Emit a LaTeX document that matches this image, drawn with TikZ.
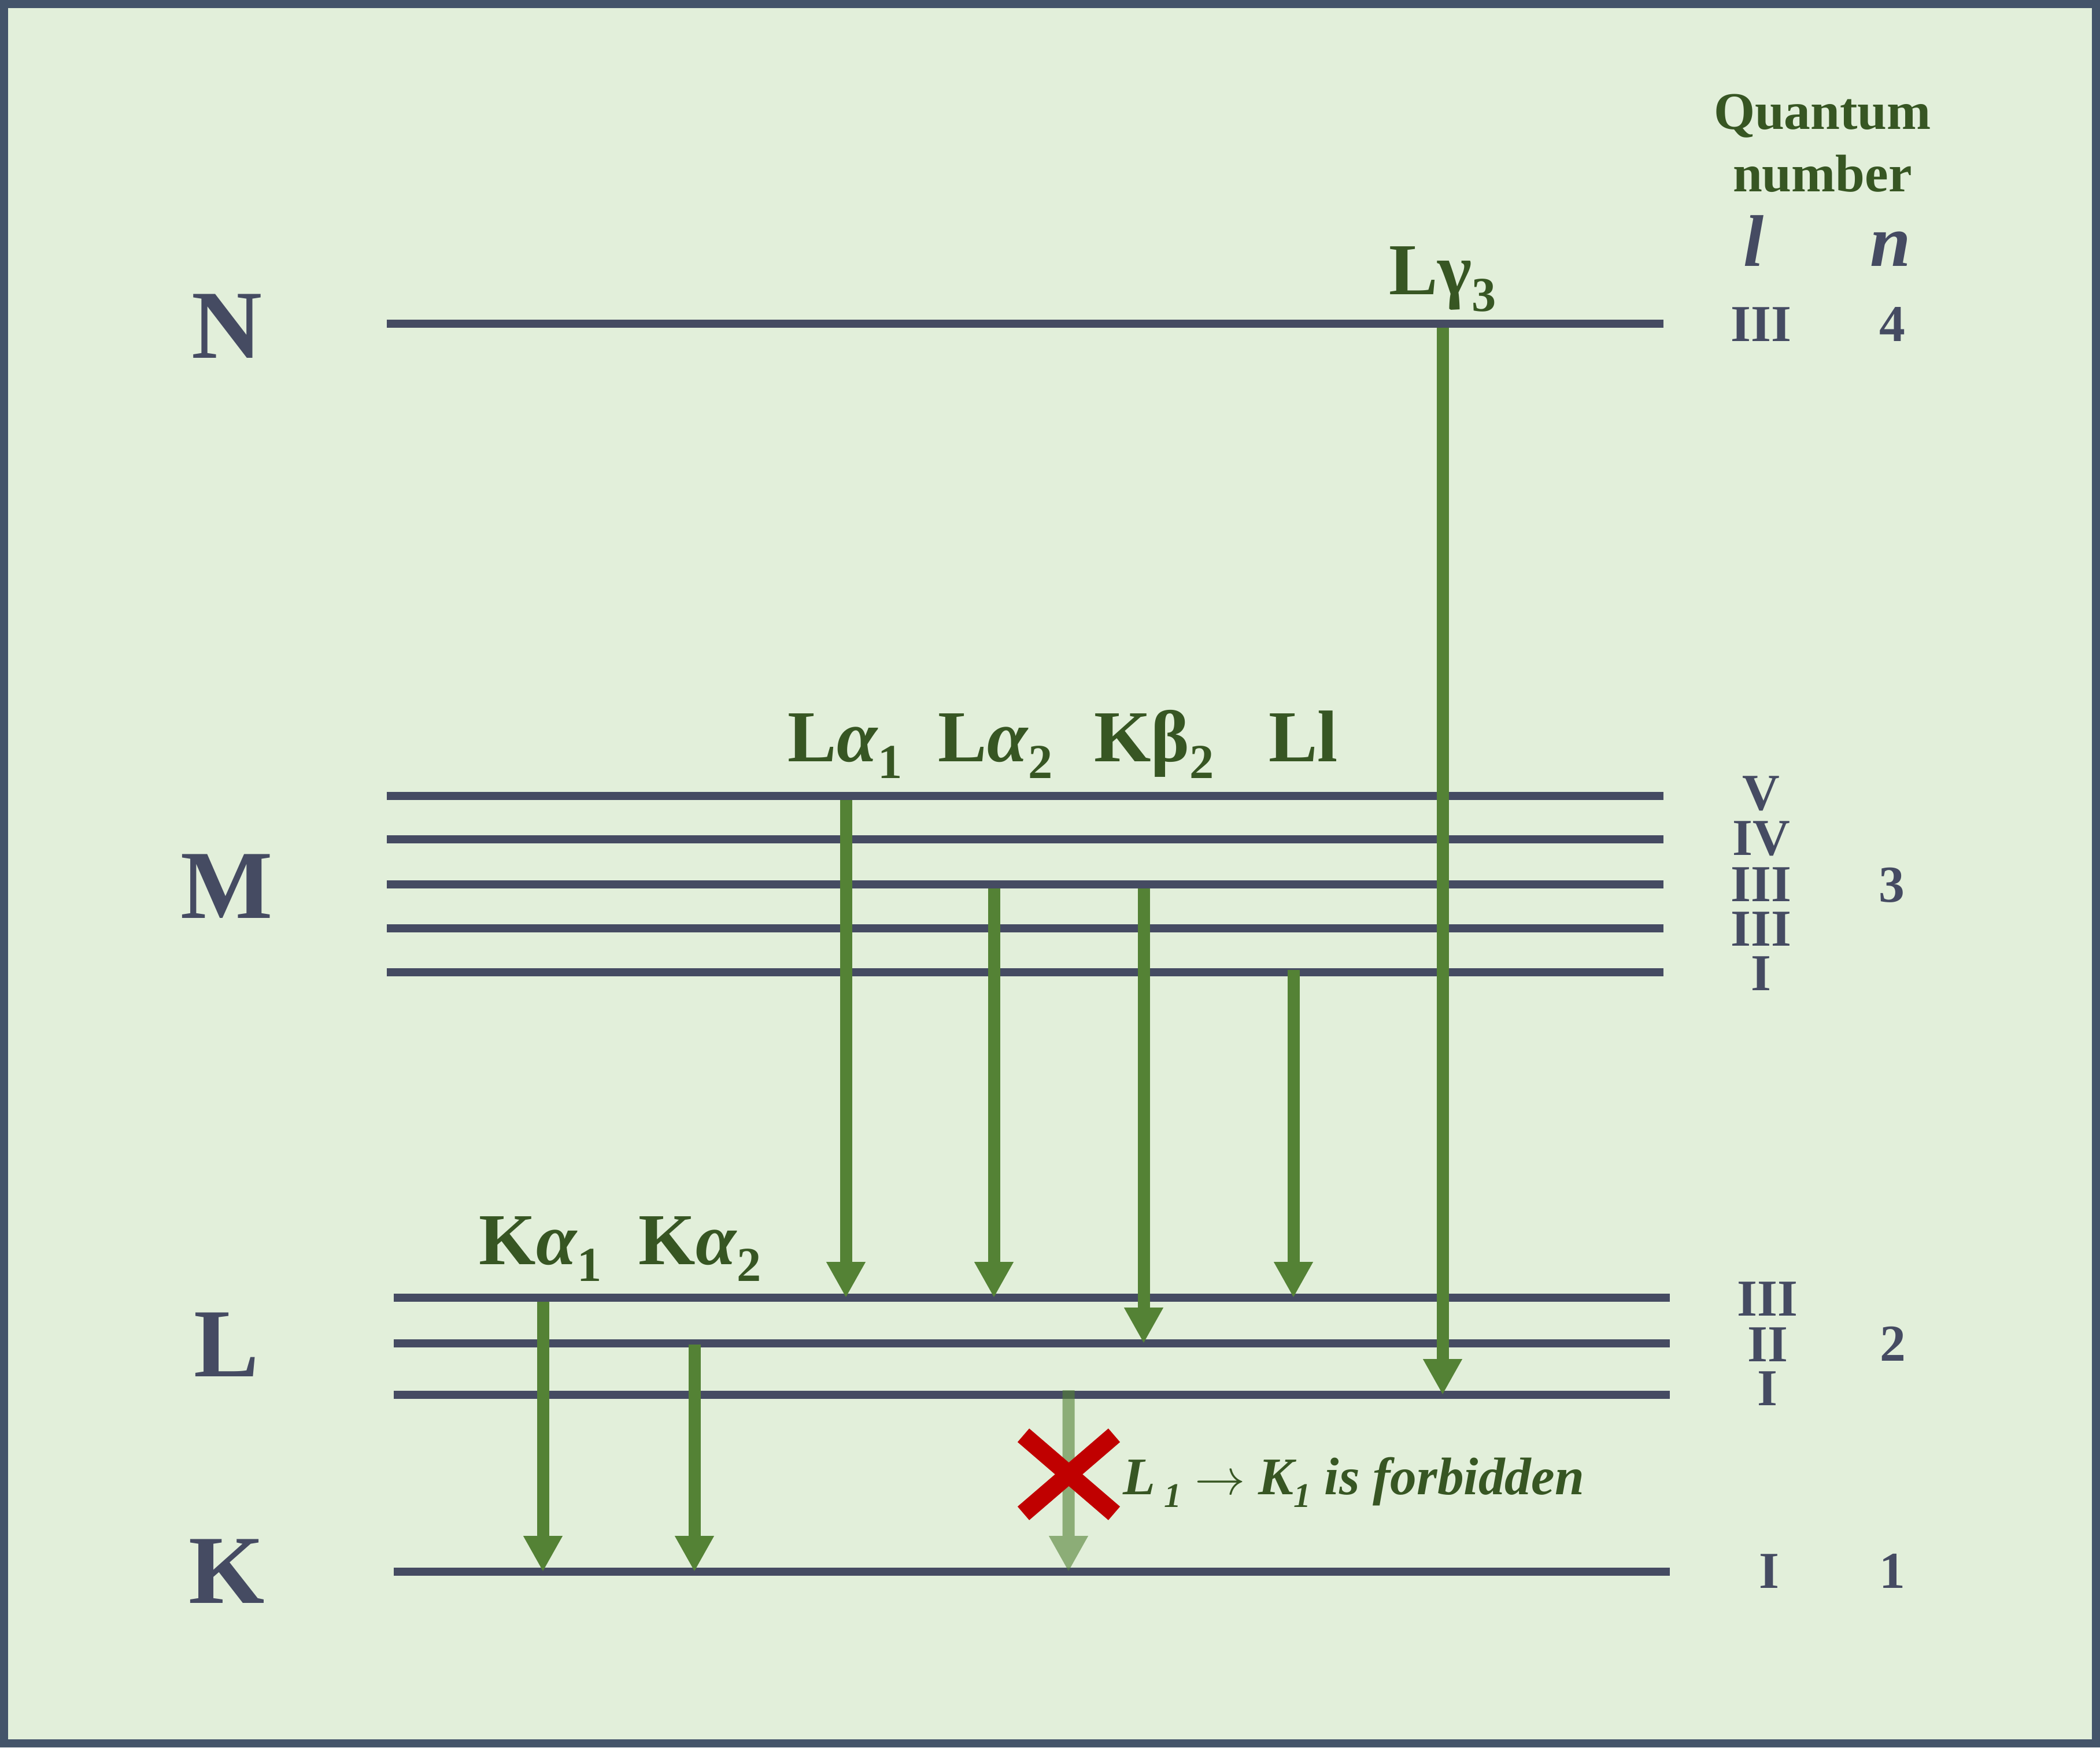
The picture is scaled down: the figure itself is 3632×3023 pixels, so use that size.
\documentclass[tikz,border=0pt]{standalone}
\usepackage{fontspec}
\setmainfont{Liberation Serif}
\usetikzlibrary{arrows.meta,calc}
\definecolor{bg}{HTML}{E2EFDA}
\definecolor{framecol}{HTML}{44546A}
\definecolor{slate}{HTML}{454B62}
\definecolor{arrowgreen}{HTML}{548235}
\definecolor{labelgreen}{HTML}{375623}
\definecolor{xred}{HTML}{C00000}
\newcommand\lsub[1]{\raisebox{-8.5pt}{\fontsize{24}{24}\selectfont #1}}
\newcommand\fsub[1]{\raisebox{-6.3pt}{\fontsize{17}{17}\selectfont #1}}
\begin{document}
\begin{tikzpicture}[x=0.01cm,y=-0.01cm,
  levelline/.style={draw=slate,line width=3.98pt},
  trans/.style={draw=arrowgreen,line width=5.97pt,-{Triangle[length=17.6pt,width=18pt]}},
  shell/.style={text=slate,font=\fontsize{48}{48}\selectfont\bfseries,inner sep=0pt,anchor=base},
  tlabel/.style={text=labelgreen,font=\fontsize{36}{36}\selectfont\bfseries,inner sep=0pt,anchor=base},
  qhead/.style={text=labelgreen,font=\fontsize{26}{26}\selectfont\bfseries,inner sep=0pt,anchor=base},
  qsym/.style={text=slate,font=\fontsize{36}{36}\selectfont\bfseries\itshape,inner sep=0pt,anchor=base},
  qn/.style={text=slate,font=\fontsize{25.5}{25.5}\selectfont\bfseries,inner sep=0pt,anchor=center},
  ftext/.style={text=labelgreen,font=\fontsize{26}{26}\selectfont\bfseries\itshape,inner sep=0pt,anchor=base west},
  xbar/.style={draw=xred,line width=8.8pt}
]
\useasboundingbox (0,0) rectangle (3632,3023);
\fill[bg] (0,0) rectangle (3632,3023);
\draw[framecol,line width=3.98pt] (7,7) rectangle (3625,3016);

% level heights
\coordinate (lvN) at (0,560);
\coordinate (lvMV) at (0,1377);
\coordinate (lvMIV) at (0,1452);
\coordinate (lvMIII) at (0,1530);
\coordinate (lvMII) at (0,1606);
\coordinate (lvMI) at (0,1682);
\coordinate (lvLIII) at (0,2245);
\coordinate (lvLII) at (0,2324);
\coordinate (lvLI) at (0,2413);
\coordinate (lvK) at (0,2719);
% line extents
\coordinate (ua) at (669,0);
\coordinate (ub) at (2877,0);
\coordinate (la) at (681,0);
\coordinate (lb) at (2888,0);

\foreach \l in {lvN,lvMV,lvMIV,lvMIII,lvMII,lvMI}
  \draw[levelline] (ua |- \l) -- (ub |- \l);
\foreach \l in {lvLIII,lvLII,lvLI,lvK}
  \draw[levelline] (la |- \l) -- (lb |- \l);

% arrow columns
\coordinate (xLa1) at (1463,0);
\coordinate (xLa2) at (1719,0);
\coordinate (xKb2) at (1978,0);
\coordinate (xLl) at (2237,0);
\coordinate (xLg3) at (2495,0);
\coordinate (xKa1) at (939,0);
\coordinate (xKa2) at (1201,0);
\coordinate (xF) at (1848,0);

\draw[trans] ($(xLa1 |- lvMV)+(0,7)$) -- (xLa1 |- lvLIII);
\draw[trans] ($(xLa2 |- lvMIII)+(0,7)$) -- (xLa2 |- lvLIII);
\draw[trans] ($(xKb2 |- lvMIII)+(0,7)$) -- (xKb2 |- lvLII);
\draw[trans] ($(xLl |- lvMI)+(0,-4)$) -- (xLl |- lvLIII);
\draw[trans] ($(xLg3 |- lvN)+(0,7)$) -- (xLg3 |- lvLI);
\draw[trans] ($(xKa1 |- lvLIII)+(0,7)$) -- (xKa1 |- lvK);
\draw[trans] ($(xKa2 |- lvLII)+(0,2)$) -- (xKa2 |- lvK);
\begin{scope}[transparency group,opacity=0.6]
\draw[trans] ($(xF |- lvLI)+(0,-8)$) -- (xF |- lvK);
\end{scope}

% red cross
\coordinate (x1) at (1770,2483);
\coordinate (x2) at (1927,2618);
\coordinate (x3) at (1927,2483);
\coordinate (x4) at (1770,2618);
\draw[xbar] (x1) -- (x2);
\draw[xbar] (x3) -- (x4);

% shell letters
\node[shell] (sN) at (392,619) {N};
\node[shell] (sM) at (392,1588) {M};
\node[shell] (sL) at (392,2381) {L};
\node[shell] (sK) at (392,2773) {K};

% transition labels
\node[tlabel] (tLa1) at (1462,1317) {L\textit{α}\lsub{1}};
\node[tlabel] (tLa2) at (1722,1317) {L\textit{α}\lsub{2}};
\node[tlabel] (tKb2) at (1996,1317) {Kβ\lsub{2}};
\node[tlabel] (tLl) at (2254,1317) {Ll};
\node[tlabel] (tLg3) at (2495,509) {Lγ\lsub{3}};
\node[tlabel] (tKa1) at (935,2187) {K\textit{α}\lsub{1}};
\node[tlabel] (tKa2) at (1211,2187) {K\textit{α}\lsub{2}};

% quantum number header
\node[qhead] (qh1) at (3152,223) {Quantum};
\node[qhead] (qh2) at (3152,331) {number};
\node[qsym] (ql) at (3033,460) {l};
\node[qsym] (qnn) at (3270,460) {n};

% numerals
\node[qn] (nN) at (3046,561) {III};
\node[qn] (nN4) at (3273,561) {4};
\node[qn] (nM5) at (3046,1373) {V};
\node[qn] (nM4) at (3046,1451) {IV};
\node[qn] (nM3) at (3046,1530) {III};
\node[qn] (nM2) at (3046,1607) {III};
\node[qn] (nM1) at (3046,1684) {I};
\node[qn] (nM) at (3272,1531) {3};
\node[qn] (nL3) at (3057,2247) {III};
\node[qn] (nL2) at (3057,2326) {II};
\node[qn] (nL1) at (3057,2402) {I};
\node[qn] (nL) at (3274,2325) {2};
\node[qn] (nK1) at (3060,2718) {I};
\node[qn] (nK) at (3273,2718) {1};

% forbidden note
\node[ftext] (fnote) at (1942,2585) {L\,\fsub{1}\ $\rightarrow$\ K\fsub{1} is forbidden};
\end{tikzpicture}
\end{document}
